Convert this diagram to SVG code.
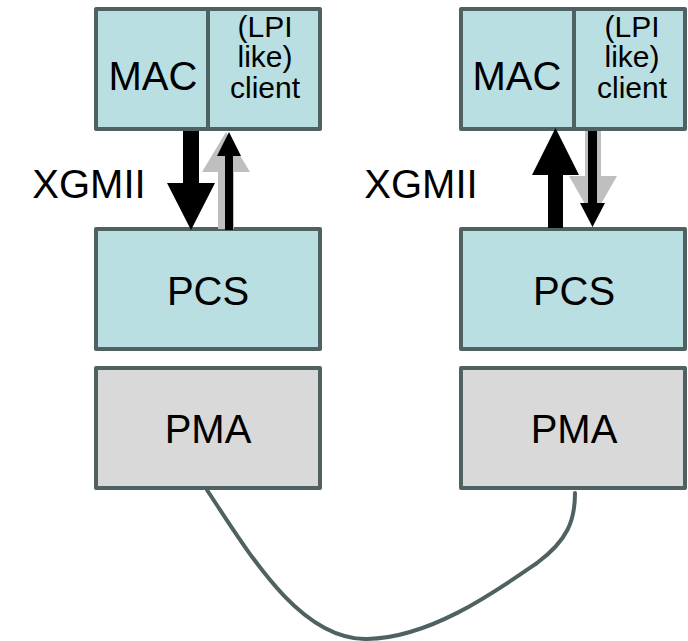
<svg xmlns="http://www.w3.org/2000/svg" width="688" height="641" viewBox="0 0 688 641">
  <style>
    .box { stroke: #4f6161; stroke-width: 4; stroke-linejoin: round; }
    .cyan { fill: #b9dfe2; }
    .grey { fill: #d9d9d9; }
    text { font-family: "Liberation Sans", Arial, sans-serif; fill: #000; text-anchor: middle; }
    .big { font-size: 40px; }
    .small { font-size: 30px; }
    .cable { fill: none; stroke: #4f6161; stroke-width: 4; stroke-linecap: round; }
  </style>

  <!-- left station -->
  <g id="left-mac">
    <rect class="box cyan" x="96" y="9" width="112" height="120"/>
    <text class="big" x="153" y="90">MAC</text>
  </g>
  <g id="left-client">
    <rect class="box cyan" x="208" y="9" width="112" height="120"/>
    <text class="small" x="265" y="37">(LPI</text>
    <text class="small" x="265" y="67">like)</text>
    <text class="small" x="265" y="98">client</text>
  </g>
  <g id="left-pcs">
    <rect class="box cyan" x="96" y="229" width="224" height="120"/>
    <text class="big" x="208" y="305">PCS</text>
  </g>
  <g id="left-pma">
    <rect class="box grey" x="96" y="368" width="224" height="120"/>
    <text class="big" x="208" y="443">PMA</text>
  </g>
  <text id="left-xgmii" class="big" x="89" y="198">XGMII</text>

  <!-- right station -->
  <g id="right-mac">
    <rect class="box cyan" x="461" y="9" width="113" height="120"/>
    <text class="big" x="517" y="90">MAC</text>
  </g>
  <g id="right-client">
    <rect class="box cyan" x="574" y="9" width="111" height="120"/>
    <text class="small" x="632" y="37">(LPI</text>
    <text class="small" x="632" y="67">like)</text>
    <text class="small" x="632" y="98">client</text>
  </g>
  <g id="right-pcs">
    <rect class="box cyan" x="461" y="229" width="224" height="120"/>
    <text class="big" x="574" y="305">PCS</text>
  </g>
  <g id="right-pma">
    <rect class="box grey" x="461" y="368" width="224" height="120"/>
    <text class="big" x="574" y="443">PMA</text>
  </g>
  <text id="right-xgmii" class="big" x="421" y="198">XGMII</text>

  <!-- connectors -->
  <g id="connectors">
    <!-- left: MAC to PCS (data down) -->
    <polygon fill="#000" points="183,131 199,131 199,183 215,183 191,230 167,183 183,183"/>
    <!-- left: PCS to client (grey wide + black thin, up) -->
    <polygon fill="#bfbfbf" points="218,229 234,229 234,172 250,172 226,132 202,172 218,172"/>
    <polygon fill="#000" points="225,230 233,230 233,156 241,156 229,132 217,156 225,156"/>

    <!-- right: PCS to MAC (data up) -->
    <polygon fill="#000" points="548,228 563,228 563,175 579,175 555.5,128 532,175 548,175"/>
    <!-- right: client to PCS (grey wide + black thin, down) -->
    <polygon fill="#bfbfbf" points="585,131 601,131 601,176 617,176 593,218 569,176 585,176"/>
    <polygon fill="#000" points="588,131 597,131 597,203 605,203 592.5,227 580,203 588,203"/>

    <!-- cable between the two PMAs -->
    <path class="cable" d="M207,490 C250,555 300,640 367,639 C430,638 495,592 537,563 C568,540 575,520 575,493"/>
  </g>
</svg>
